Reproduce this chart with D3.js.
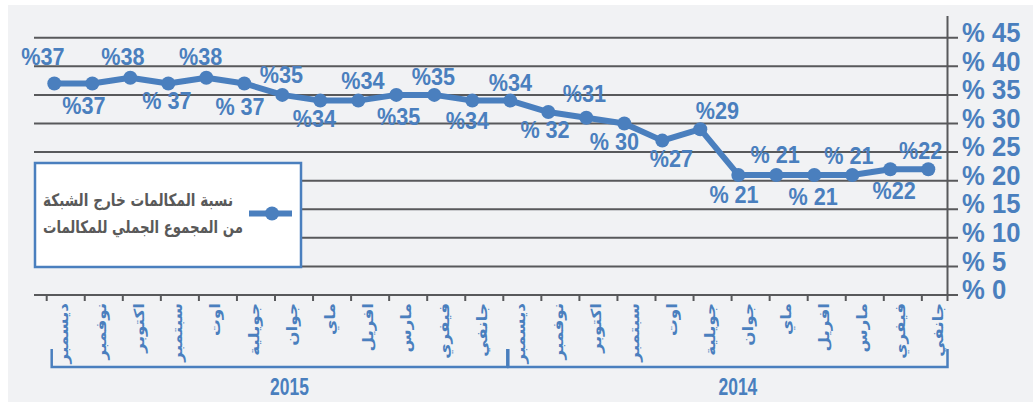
<!DOCTYPE html>
<html>
<head>
<meta charset="utf-8">
<script src="https://cdn.jsdelivr.net/npm/d3@7/dist/d3.min.js"></script>
<style>
  html, body { margin: 0; padding: 0; background: #ffffff; }
  svg { display: block; }
</style>
</head>
<body>
<script>
// ---------------- data ----------------
const months = ["ديسمبر","نوفمبر","اكتوبر","سبتمبر","اوت","جويلية","جوان","ماي","افريل","مارس","فيفري","جانفي",
                "ديسمبر","نوفمبر","اكتوبر","سبتمبر","اوت","جويلية","جوان","ماي","افريل","مارس","فيفري","جانفي"];
const years = ["2015","2014"];
const yearStart = [0, 12];
const values = [37,37,38,37,38,37,35,34,34,35,35,34,34,32,31,30,27,29,21,21,21,21,22,22];
const labelSpaced = [3,5,13,15,18,19,20,21]; // labels written as "% NN"
const yTicks = [0,5,10,15,20,25,30,35,40,45];
const legendLines = ["نسبة المكالمات خارج الشبكة","من المجموع الجملي للمكالمات"];

// ---------------- drawing ----------------
const W = 1033, H = 402;
const blue = "#4a7fbe", grid = "#58595b";
const numFont = "'Liberation Sans',Arial,sans-serif";
const arFont = "'DejaVu Sans',sans-serif";

const svg = d3.select("body").append("svg").attr("width", W).attr("height", H);
svg.append("rect").attr("x", 8).attr("y", 5).attr("width", W - 8).attr("height", H - 5).attr("fill", "#f1f2f4");

const idx = d3.range(values.length);
const y = d3.scaleLinear().domain([0, 45]).range([295, 37.7]);
const xb = d3.scaleBand().domain(idx).range([46.7, 46.7 + 38.05 * 24]).paddingInner(0).paddingOuter(0);
const xp = d3.scalePoint().domain(idx).range([54.3, 928.3]);
const axisX = 947.5, gridL = 34, gridR = 958;

// gridlines
svg.append("g").selectAll("line").data(yTicks).join("line")
  .attr("x1", gridL).attr("x2", gridR)
  .attr("y1", d => y(d)).attr("y2", d => y(d))
  .attr("stroke", grid).attr("stroke-width", 2);

// vertical axis
svg.append("line").attr("x1", axisX).attr("x2", axisX).attr("y1", 16).attr("y2", y(0) + 6)
  .attr("stroke", grid).attr("stroke-width", 2);

// y tick labels
svg.append("g").selectAll("text").data(yTicks).join("text")
  .attr("transform", d => `translate(962,${y(d) - 5}) scale(0.95,1)`)
  .attr("dominant-baseline", "central")
  .attr("font-family", numFont).attr("font-weight", "bold").attr("font-size", 27)
  .attr("fill", blue)
  .text(d => "% " + d);

// x ticks
svg.append("g").selectAll("line").data(idx).join("line")
  .attr("x1", d => xb(d)).attr("x2", d => xb(d))
  .attr("y1", y(0)).attr("y2", y(0) + 6)
  .attr("stroke", grid).attr("stroke-width", 2);

// month labels (rotated)
svg.append("g").selectAll("text").data(idx).join("text")
  .attr("transform", d => `translate(${xb(d) + xb.bandwidth() / 2 - 2},${y(0) + 8}) rotate(-90) scale(1.2,1)`)
  .attr("text-anchor", "end")
  .attr("dominant-baseline", "central")
  .attr("font-family", arFont).attr("font-weight", "bold").attr("font-size", 14)
  .attr("fill", blue)
  .text(d => months[d]);

// year brackets
yearStart.forEach((s, i) => {
  const x0 = xb(s) + 5;
  const x1 = i + 1 < yearStart.length ? xb(yearStart[i + 1]) + 4 : axisX;
  const g = svg.append("g");
  g.append("path")
    .attr("d", `M${x0},349 V367 H${x1} V349`)
    .attr("fill", "none").attr("stroke", blue).attr("stroke-width", 2.5);
  g.append("text")
    .attr("transform", `translate(${(x0 + x1) / 2 + 10},395) scale(0.76,1)`)
    .attr("text-anchor", "middle")
    .attr("font-family", numFont).attr("font-weight", "bold").attr("font-size", 23)
    .attr("fill", blue)
    .text(years[i]);
});

// line + markers
const line = d3.line().x(d => xp(d)).y(d => y(values[d]));
svg.append("path").datum(idx).attr("d", line)
  .attr("fill", "none").attr("stroke", blue).attr("stroke-width", 6)
  .attr("stroke-linejoin", "round");
svg.append("g").selectAll("circle").data(idx).join("circle")
  .attr("cx", d => xp(d)).attr("cy", d => y(values[d])).attr("r", 7)
  .attr("fill", blue);

// data labels: offsets of each label from its point [dx, dy-to-baseline]
const labelOffset = [[-11.5,-18.4],[-8.3,31],[-7.5,-12.7],[-1.5,26],[-5.7,-12.7],[-4.3,31.7],[-1,-12.3],[-6,26.7],
                     [4.7,-11.7],[2.3,29.7],[-1,-10.3],[-5,28.3],[0,-10],[-3.3,26.4],[-2,-15.3],[-10,27],
                     [9,26.7],[17,-10],[-4.3,28],[-1.2,-12],[-1.2,29.6],[-3.5,-11],[3.8,30],[-7.6,-10.7]];
svg.append("g").selectAll("text").data(idx).join("text")
  .attr("transform", d => `translate(${xp(d) + labelOffset[d][0]},${y(values[d]) + labelOffset[d][1]}) scale(0.94,1)`)
  .attr("text-anchor", "middle")
  .attr("direction", "ltr")
  .attr("font-family", numFont).attr("font-weight", "bold").attr("font-size", 23)
  .attr("fill", blue)
  .text(d => "%" + (labelSpaced.includes(d) ? " " : "") + values[d]);

// legend
const lg = svg.append("g");
lg.append("rect").attr("x", 35).attr("y", 163).attr("width", 266).attr("height", 104)
  .attr("fill", "#ffffff").attr("stroke", blue).attr("stroke-width", 2.5);
lg.append("line").attr("x1", 249).attr("x2", 292).attr("y1", 213.5).attr("y2", 213.5)
  .attr("stroke", blue).attr("stroke-width", 6);
lg.append("circle").attr("cx", 272).attr("cy", 213.5).attr("r", 7).attr("fill", blue);
const legendWidth = [190, 200], legendCenter = [138, 143];
lg.selectAll("text.l").data(legendLines).join("text").attr("class", "l")
  .attr("x", (d, i) => legendCenter[i]).attr("y", (d, i) => 206 + i * 27)
  .attr("text-anchor", "middle")
  .attr("textLength", (d, i) => legendWidth[i]).attr("lengthAdjust", "spacingAndGlyphs")
  .attr("font-family", arFont).attr("font-weight", "bold").attr("font-size", 17)
  .attr("fill", "#595959")
  .text(d => d);
</script>
</body>
</html>
